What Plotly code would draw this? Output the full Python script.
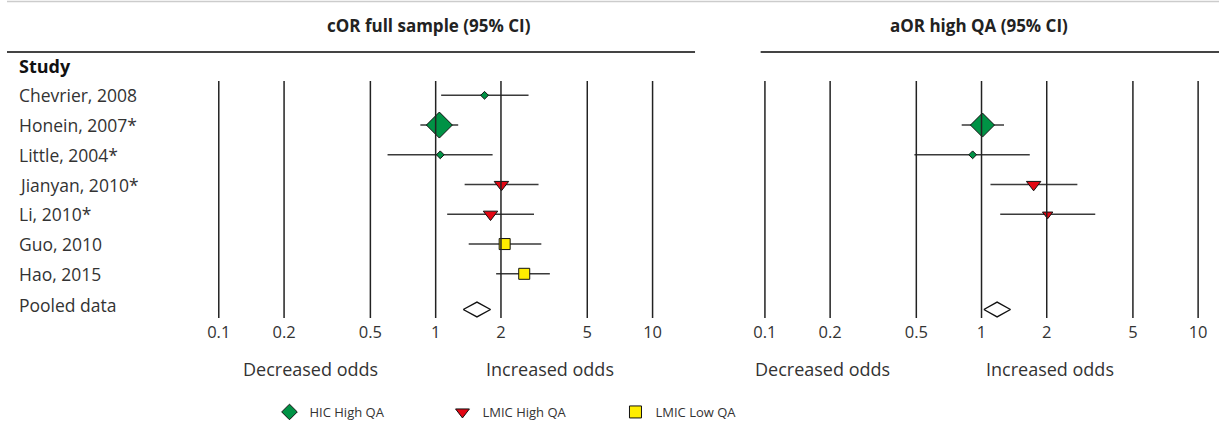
import math
import plotly.graph_objects as go

# ---------------- data ----------------
studies = ["Chevrier, 2008", "Honein, 2007*", "Little, 2004*", "Jianyan, 2010*",
           "Li, 2010*", "Guo, 2010", "Hao, 2015"]
groups = ["HIC High QA", "HIC High QA", "HIC High QA", "LMIC High QA",
          "LMIC High QA", "LMIC Low QA", "LMIC Low QA"]

cor_est = [1.68, 1.04, 1.05, 2.01, 1.79, 2.08, 2.56]
cor_lo = [1.06, 0.85, 0.60, 1.36, 1.13, 1.42, 1.90]
cor_hi = [2.68, 1.27, 1.83, 2.98, 2.84, 3.07, 3.36]

aor_est = [None, 1.01, 0.91, 1.74, 2.02, None, None]
aor_lo = [None, 0.81, 0.49, 1.10, 1.22, None, None]
aor_hi = [None, 1.27, 1.67, 2.77, 3.35, None, None]

pooled_label = "Pooled data"
cor_pooled = [1.55, 1.34, 1.79]   # estimate, lower, upper
aor_pooled = [1.18, 1.025, 1.36]

tick_vals = [0.1, 0.2, 0.5, 1, 2, 5, 10]
tick_text = ["0.1", "0.2", "0.5", "1", "2", "5", "10"]

panel_titles = ["cOR full sample (95% CI)", "aOR high QA (95% CI)"]
direction_labels = ["Decreased odds", "Increased odds"]
header_label = "Study"

# ---------------- styles ----------------
W, H = 1219, 428
FONT = "Open Sans"
TXT = "#333333"
group_style = {
    "HIC High QA": dict(symbol="diamond", color="#009245"),
    "LMIC High QA": dict(symbol="triangle-down", color="#e30613"),
    "LMIC Low QA": dict(symbol="square", color="#ffed00"),
}
legend_size = {"HIC High QA": 12, "LMIC High QA": 12, "LMIC Low QA": 12}
cor_marker_px = [6, 20, 6, 12.5, 12.5, 11, 11]
aor_marker_px = [0, 18.5, 6, 12.5, 9, 0, 0]

# pixel geometry -> axis ranges
ROW0_PX, ROW_PX = 95.3, 29.75
def row_of(px):
    return (px - ROW0_PX) / ROW_PX
y_range = [row_of(H), row_of(0)]
rows = list(range(len(studies)))
pooled_row = 7.2

def log_range(px_left, px_right, px_01, px_10):
    dec = (px_10 - px_01) / 2.0
    return [-1 + (px_left - px_01) / dec, -1 + (px_right - px_01) / dec]

left_dom = [0, 692 / W]
right_dom = [758 / W, 1]
left_rng = log_range(0, 692, 213, 649.3)
right_rng = log_range(758, 1219, 762.3, 1198)

fig = go.Figure()

def add_panel(est, lo, hi, sizes, pooled, xa):
    for g in group_style:
        idx = [i for i in rows if groups[i] == g and est[i] is not None]
        if not idx:
            continue
        st = group_style[g]
        fig.add_trace(go.Scatter(
            x=[est[i] for i in idx], y=[rows[i] for i in idx],
            xaxis=xa, yaxis="y", mode="markers", showlegend=False,
            hoverinfo="skip",
            marker=dict(symbol=st["symbol"], color=st["color"], opacity=1,
                        size=[sizes[i] for i in idx],
                        line=dict(color="#111111", width=1)),
            error_x=dict(type="data", symmetric=False,
                         array=[hi[i] - est[i] for i in idx],
                         arrayminus=[est[i] - lo[i] for i in idx],
                         width=0, thickness=1.6, color="#3a3a3a"),
        ))
    e, l, u = pooled
    hh = 0.25
    fig.add_trace(go.Scatter(
        x=[l, e, u, e, l], y=[pooled_row, pooled_row - hh, pooled_row,
                              pooled_row + hh, pooled_row],
        xaxis=xa, yaxis="y", mode="lines", fill="toself",
        fillcolor="white", line=dict(color="#111111", width=1.4),
        showlegend=False, hoverinfo="skip"))

add_panel(cor_est, cor_lo, cor_hi, cor_marker_px, cor_pooled, "x")
add_panel(aor_est, aor_lo, aor_hi, aor_marker_px, aor_pooled, "x2")

# legend-only traces
for g, st in group_style.items():
    fig.add_trace(go.Scatter(
        x=[None], y=[None], mode="markers", name=g,
        marker=dict(symbol=st["symbol"], color=st["color"], size=legend_size[g],
                    line=dict(color="#111111", width=1))))

# vertical reference lines
shapes = []
for xr in ["x", "x2"]:
    for v in tick_vals:
        shapes.append(dict(type="line", xref=xr, yref="y", x0=v, x1=v,
                           y0=row_of(81), y1=row_of(318),
                           line=dict(color="#222222", width=1.5)))
# top grey rule and title underlines
shapes.append(dict(type="line", xref="paper", yref="paper", x0=0, x1=1,
                   y0=1 - 1.5 / H, y1=1 - 1.5 / H, line=dict(color="#cccccc", width=1.5)))
shapes.append(dict(type="line", xref="paper", yref="paper", x0=0, x1=692 / W,
                   y0=1 - 52 / H, y1=1 - 52 / H, line=dict(color="#444444", width=1.8)))
shapes.append(dict(type="line", xref="paper", yref="paper", x0=758 / W, x1=1,
                   y0=1 - 52 / H, y1=1 - 52 / H, line=dict(color="#444444", width=1.8)))

ann = []
# titles
for t, cx in zip(panel_titles, [424, 978]):
    ann.append(dict(text="<b>%s</b>" % t, x=cx / W, y=1 - 25 / H, xref="paper",
                    yref="paper", showarrow=False, xanchor="center", yanchor="middle",
                    font=dict(size=17, color="#222222", family=FONT)))
# row labels
ann.append(dict(text="<b>%s</b>" % header_label, x=10 / W, y=-1, xref="paper",
                yref="y", showarrow=False, xanchor="left", yanchor="middle",
                font=dict(size=18, color="#111111", family=FONT)))
for s, r in zip(studies + [pooled_label], rows + [7.05]):
    ann.append(dict(text=s, x=10 / W, y=r, xref="paper", yref="y", showarrow=False,
                    xanchor="left", yanchor="middle",
                    font=dict(size=17.5, color=TXT, family=FONT)))
# direction labels
for (d, cx) in zip(direction_labels * 2, [305, 546, 820, 1049]):
    ann.append(dict(text=d, x=cx / W, y=1 - 369 / H, xref="paper", yref="paper",
                    showarrow=False, xanchor="center", yanchor="middle",
                    font=dict(size=18, color=TXT, family=FONT)))

axis_common = dict(type="log", showgrid=False, zeroline=False, showline=False,
                   ticks="", tickvals=tick_vals, ticktext=tick_text,
                   tickfont=dict(size=16.5, color=TXT, family=FONT),
                   anchor="free", position=1 - 320 / H, fixedrange=True)

fig.update_layout(
    width=W, height=H, margin=dict(l=0, r=0, t=0, b=0),
    paper_bgcolor="white", plot_bgcolor="white",
    font=dict(family=FONT, color=TXT),
    xaxis=dict(domain=left_dom, range=left_rng, **axis_common),
    xaxis2=dict(domain=right_dom, range=right_rng, **axis_common),
    yaxis=dict(range=y_range, visible=False, domain=[0, 1], fixedrange=True),
    shapes=shapes, annotations=ann,
    showlegend=True,
    legend=dict(orientation="h", x=264 / W, y=1 - 412 / H, xanchor="left",
                yanchor="middle", entrywidth=128, entrywidthmode="pixels",
                font=dict(size=13, color=TXT, family=FONT),
                bgcolor="rgba(0,0,0,0)", itemclick=False),
)

fig.write_html("out.html", config={"displayModeBar": False, "staticPlot": True},
               post_script="document.body.style.margin='0px';")
